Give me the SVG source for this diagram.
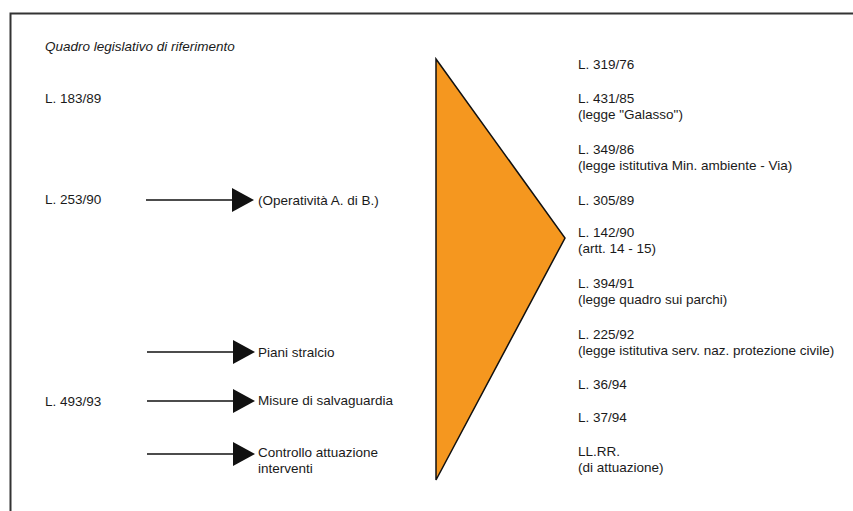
<svg xmlns="http://www.w3.org/2000/svg" width="853" height="511" viewBox="0 0 853 511">
<defs>
<style>
.t{font-family:"Liberation Sans",Arial,sans-serif;font-size:13.5px;fill:#1a1a1a}
.i{font-style:italic}
.ln{stroke:#111;stroke-width:1.5;fill:none}
</style>
<marker id="ah" viewBox="0 0 22 24" refX="0" refY="12" markerWidth="22" markerHeight="24" markerUnits="userSpaceOnUse" orient="auto">
<path d="M0,0 L22,12 L0,24 Z" fill="#111"/>
</marker>
</defs>
<rect width="853" height="511" fill="#fff"/>
<g id="frame">
<path d="M853,13.5 L10.5,13.5 L10.5,511" stroke="#333" stroke-width="2" fill="none"/>
</g>
<g id="title"><text class="t i" x="45" y="51">Quadro legislativo di riferimento</text></g>
<g id="funnel">
<path d="M436,59 L565,238 L436,480 Z" fill="#F5971F" stroke="#111" stroke-width="1.5" stroke-linejoin="miter"/>
</g>
<g id="left-laws">
<g id="n-l18389"><text class="t" x="45" y="103">L. 183/89</text></g>
<g id="n-l25390"><text class="t" x="45" y="204">L. 253/90</text></g>
<g id="n-l49393"><text class="t" x="45" y="406">L. 493/93</text></g>
</g>
<g id="connectors">
<line class="ln" x1="146" y1="200" x2="232" y2="200" marker-end="url(#ah)"/>
<line class="ln" x1="147" y1="352" x2="233" y2="352" marker-end="url(#ah)"/>
<line class="ln" x1="147" y1="401" x2="233" y2="401" marker-end="url(#ah)"/>
<line class="ln" x1="147" y1="454" x2="233" y2="454" marker-end="url(#ah)"/>
</g>
<g id="outcomes">
<g id="n-operativita"><text class="t" x="258" y="205">(Operatività A. di B.)</text></g>
<g id="n-piani"><text class="t" x="258" y="357">Piani stralcio</text></g>
<g id="n-misure"><text class="t" x="258" y="405">Misure di salvaguardia</text></g>
<g id="n-controllo"><text class="t" x="258" y="457">Controllo attuazione<tspan x="258" dy="16">interventi</tspan></text></g>
</g>
<g id="right-laws">
<g id="n-l31976"><text class="t" x="578" y="69">L. 319/76</text></g>
<g id="n-l43185"><text class="t" x="578" y="103">L. 431/85<tspan x="578" dy="16">(legge "Galasso")</tspan></text></g>
<g id="n-l34986"><text class="t" x="578" y="154">L. 349/86<tspan x="578" dy="16">(legge istitutiva Min. ambiente - Via)</tspan></text></g>
<g id="n-l30589"><text class="t" x="578" y="205">L. 305/89</text></g>
<g id="n-l14290"><text class="t" x="578" y="237">L. 142/90<tspan x="578" dy="16">(artt. 14 - 15)</tspan></text></g>
<g id="n-l39491"><text class="t" x="578" y="288">L. 394/91<tspan x="578" dy="16">(legge quadro sui parchi)</tspan></text></g>
<g id="n-l22592"><text class="t" x="578" y="339">L. 225/92<tspan x="578" dy="16">(legge istitutiva serv. naz. protezione civile)</tspan></text></g>
<g id="n-l3694"><text class="t" x="578" y="389">L. 36/94</text></g>
<g id="n-l3794"><text class="t" x="578" y="422">L. 37/94</text></g>
<g id="n-llrr"><text class="t" x="578" y="456">LL.RR.<tspan x="578" dy="16">(di attuazione)</tspan></text></g>
</g>
</svg>
